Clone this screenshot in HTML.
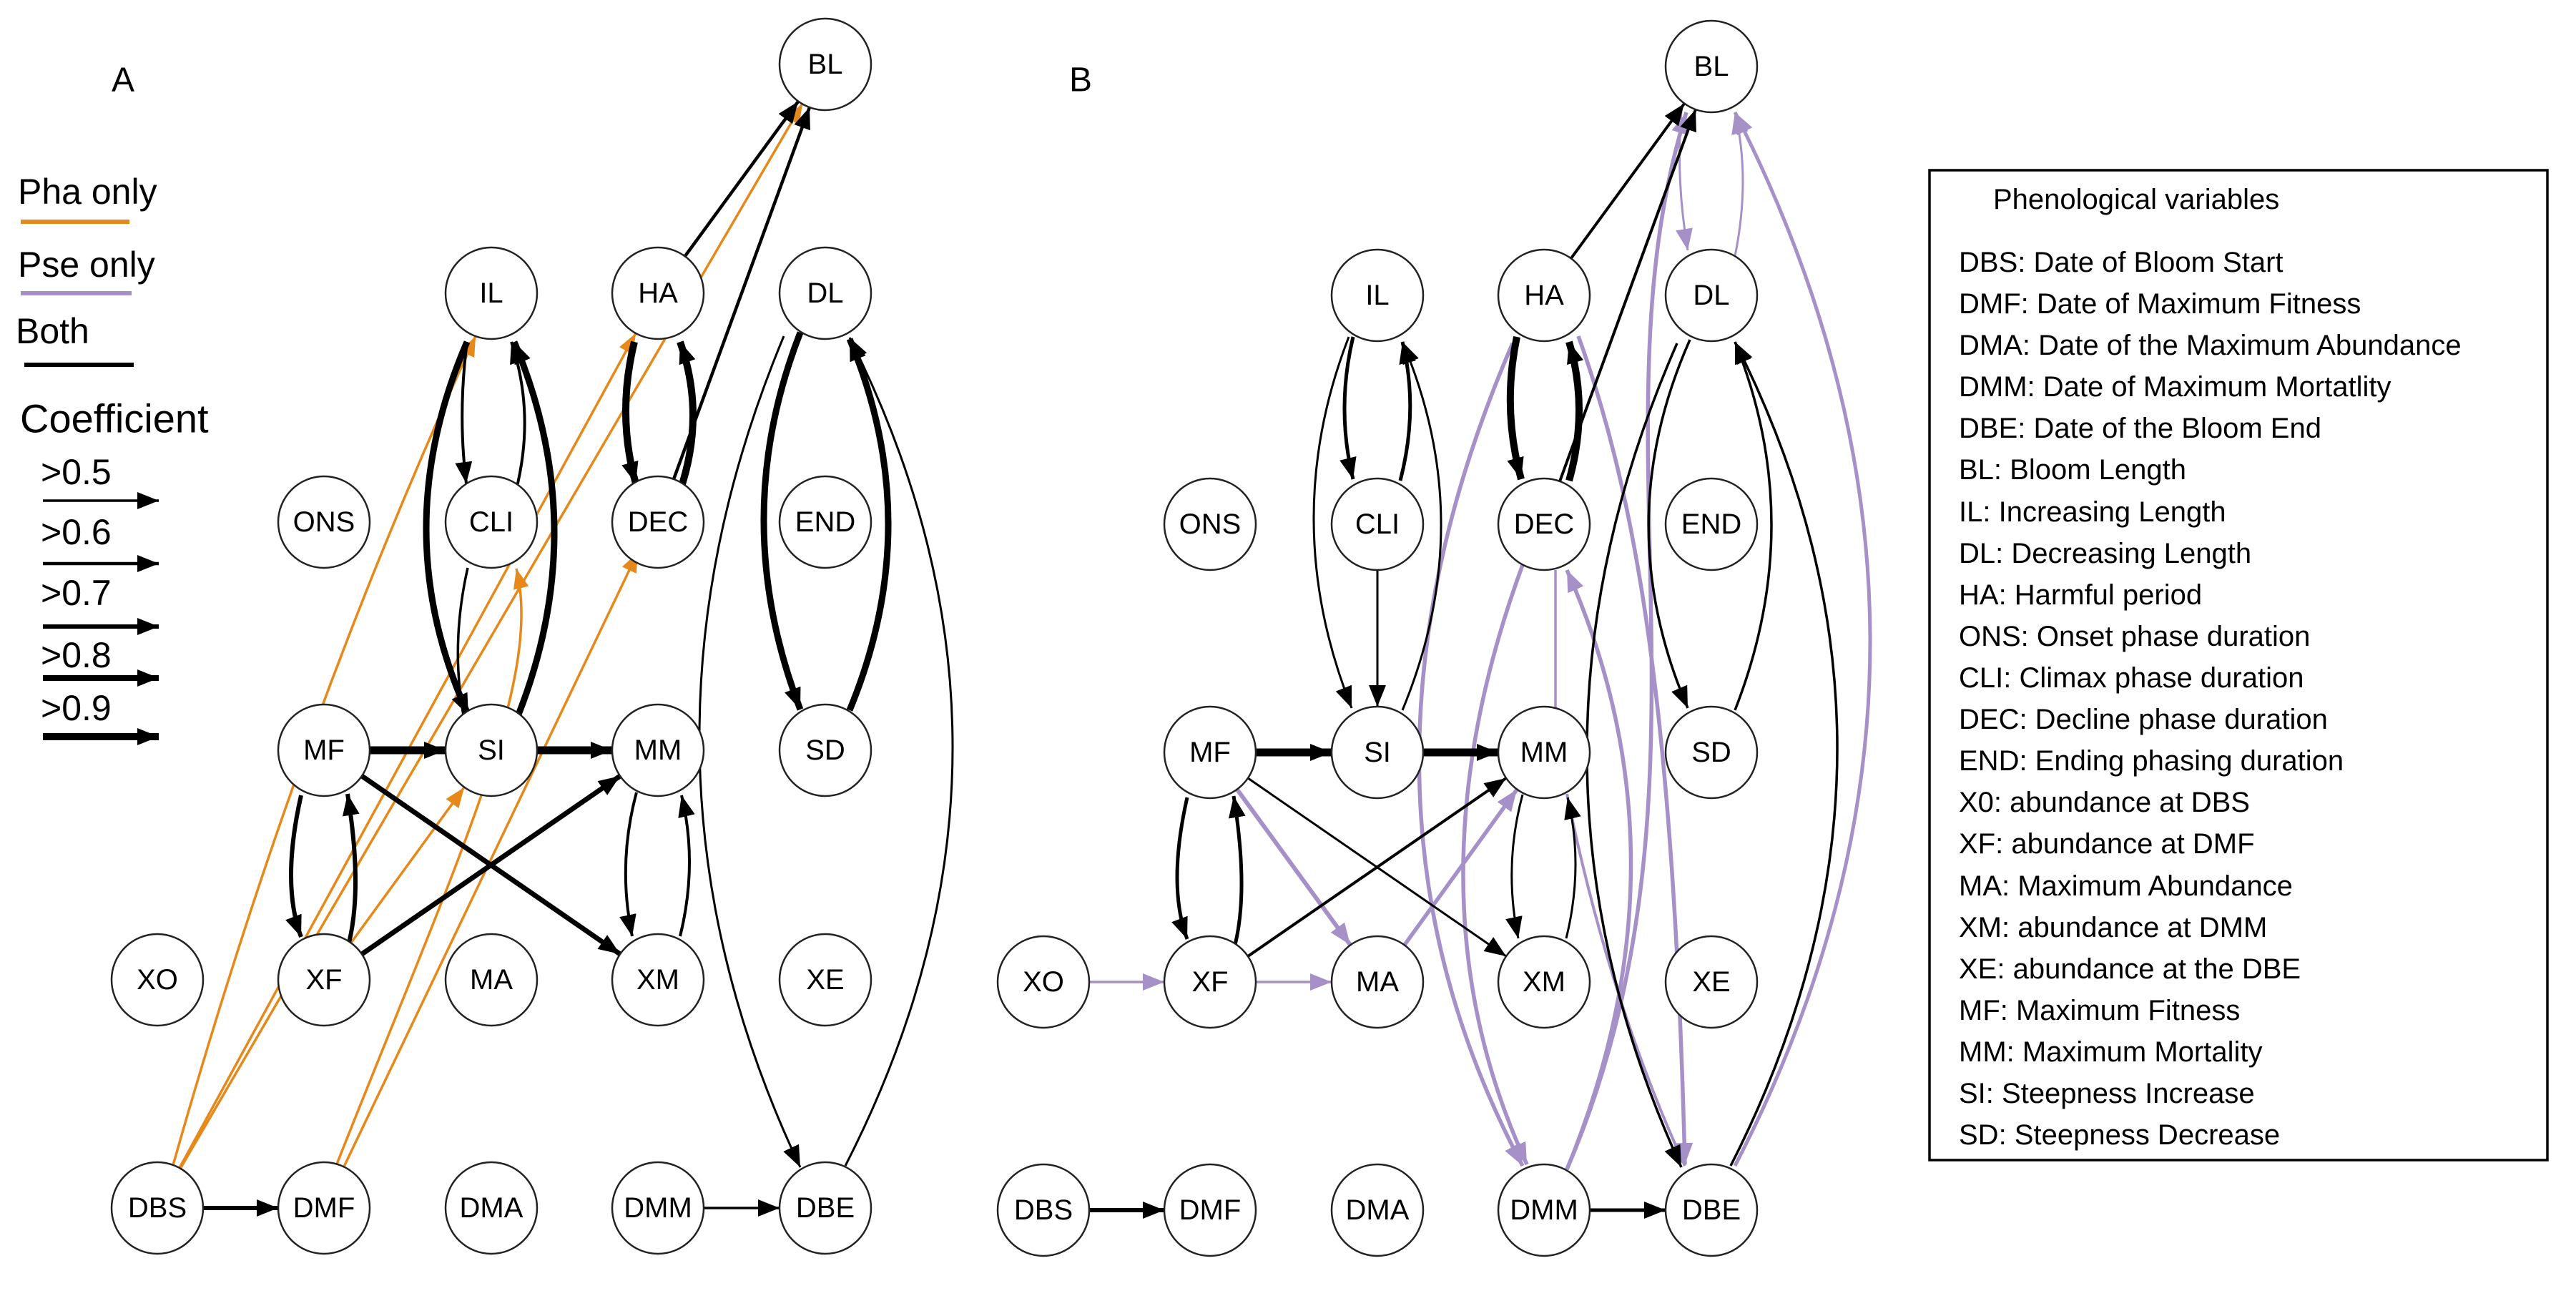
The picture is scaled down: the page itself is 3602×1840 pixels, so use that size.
<!DOCTYPE html>
<html><head><meta charset="utf-8"><style>html,body{margin:0;padding:0;background:#fff}svg{display:block}</style></head>
<body>
<svg width="3602" height="1840" viewBox="0 0 3602 1840" xmlns="http://www.w3.org/2000/svg" font-family="Liberation Sans, Arial, sans-serif">
<defs>
<marker id="k" markerUnits="userSpaceOnUse" markerWidth="30" markerHeight="24" refX="30" refY="12" orient="auto"><path d="M0,0 L30,12 L0,24 z" fill="#000"/></marker>
<marker id="o" markerUnits="userSpaceOnUse" markerWidth="28" markerHeight="22" refX="28" refY="11" orient="auto"><path d="M0,0 L28,11 L0,22 z" fill="#E6891A"/></marker>
<marker id="p" markerUnits="userSpaceOnUse" markerWidth="30" markerHeight="24" refX="30" refY="12" orient="auto"><path d="M0,0 L30,12 L0,24 z" fill="#A590C8"/></marker>
</defs>
<rect width="3602" height="1840" fill="#fff"/>

<g font-size="50" fill="#000">
<text x="172" y="112" font-size="48" text-anchor="middle" dominant-baseline="central">A</text>
<text x="1511" y="112" font-size="48" text-anchor="middle" dominant-baseline="central">B</text>
<text x="25" y="268" dominant-baseline="central">Pha only</text>
<text x="25" y="370" dominant-baseline="central">Pse only</text>
<text x="22" y="463" dominant-baseline="central">Both</text>
<text x="28" y="585" font-size="56" dominant-baseline="central">Coefficient</text>
<text x="57" y="660" dominant-baseline="central">&gt;0.5</text>
<text x="57" y="744" dominant-baseline="central">&gt;0.6</text>
<text x="57" y="829" dominant-baseline="central">&gt;0.7</text>
<text x="57" y="916" dominant-baseline="central">&gt;0.8</text>
<text x="57" y="990" dominant-baseline="central">&gt;0.9</text>
</g>
<g fill="none">
<path d="M29,310 L181,310" stroke="#E6891A" stroke-width="6"/>
<path d="M29,410 L184,410" stroke="#A590C8" stroke-width="6"/>
<path d="M34,510 L187,510" stroke="#000" stroke-width="6"/>
<g stroke="#000" marker-end="url(#k)">
<path d="M60,700 L222,700" stroke-width="3.5"/>
<path d="M60,788 L222,788" stroke-width="4.5"/>
<path d="M60,876 L222,876" stroke-width="6"/>
<path d="M60,948 L222,948" stroke-width="8"/>
<path d="M60,1030 L222,1030" stroke-width="10"/>
</g>
</g>

<g fill="none" stroke="#E6891A" stroke-width="3.5" marker-end="url(#o)">
<path d="M242,1629 Q420,1000 665,470"/>
<path d="M252,1634 L1122,145"/>
<path d="M251,1633 L889,466"/>
<path d="M491,1318 L649,1101"/>
<path d="M481,1631 L892,772"/>
<path d="M470,1630 C640,1200 760,950 722,795"/>
</g>
<g fill="none" stroke="#000" marker-end="url(#k)">
<path d="M958,358 L1116,142" stroke-width="4.5"/>
<path d="M942,670 L1132,150" stroke-width="4.5"/>
<path d="M653,478 Q640,580 652,676" stroke-width="4"/>
<path d="M721,688 Q749,580 715,478" stroke-width="4"/>
<path d="M653,478 Q538,744 655,1000" stroke-width="9"/>
<path d="M719,1014 Q831,744 719,478" stroke-width="9"/>
<path d="M654,794 Q630,900 648,1000" stroke-width="3.5" marker-end="none"/>
<path d="M887,478 Q862,580 889,676" stroke-width="10"/>
<path d="M951,686 Q987,580 951,478" stroke-width="10"/>
<path d="M1119,465 Q1017,726 1119,992" stroke-width="9"/>
<path d="M1188,993 Q1296,732 1188,474" stroke-width="9"/>
<path d="M1096,470 Q849,1062 1119,1632" stroke-width="3"/>
<path d="M1182,1630 Q1479,1050 1188,472" stroke-width="3"/>
<path d="M517,1049 L623,1049" stroke-width="11"/>
<path d="M751,1049 L856,1049" stroke-width="11"/>
<path d="M506,1085 L867,1334" stroke-width="7"/>
<path d="M506,1334 L867,1085" stroke-width="7"/>
<path d="M421,1112 Q393,1236 421,1310" stroke-width="6"/>
<path d="M488,1318 Q507,1240 486,1110" stroke-width="6"/>
<path d="M890,1108 Q863,1208 884,1309" stroke-width="4"/>
<path d="M951,1309 Q976,1208 953,1112" stroke-width="4"/>
<path d="M284,1689 L389,1689" stroke-width="6"/>
<path d="M984,1689 L1090,1689" stroke-width="3.5"/>
</g>

<g fill="none" stroke="#A590C8" marker-end="url(#p)">
<path d="M1523,1373 L1628,1373" stroke-width="3.5"/>
<path d="M1756,1373 L1862,1373" stroke-width="3.5"/>
<path d="M1730,1104 L1888,1321" stroke-width="6"/>
<path d="M1964,1321 L2121,1104" stroke-width="5.5"/>
<path d="M2351,155 Q2343,250 2360,350" stroke-width="3"/>
<path d="M2426,358 Q2448,250 2426,157" stroke-width="3"/>
<path d="M2426,1630 Q2804,900 2426,157" stroke-width="5"/>
<path d="M2115,480 Q1847,1100 2129,1630" stroke-width="5.5"/>
<path d="M2129,790 Q1960,1250 2135,1628" stroke-width="5.5"/>
<path d="M2191,1635 Q2370,1200 2191,797" stroke-width="5.5"/>
<path d="M2191,1635 C2420,1100 2220,600 2358,157" stroke-width="5.5"/>
<path d="M2207,470 C2290,700 2340,1000 2356,1628" stroke-width="5.5"/>
<path d="M2191,1110 Q2250,1400 2356,1630" stroke-width="4"/>
<path d="M2175,990 L2175,797" stroke-width="3.5" marker-end="none"/>
</g>
<g fill="none" stroke="#000" marker-end="url(#k)">
<path d="M2197,361 L2355,145" stroke-width="4"/>
<path d="M2181,673 L2371,153" stroke-width="4"/>
<path d="M1892,471 Q1868,572 1892,670" stroke-width="5"/>
<path d="M1958,672 Q1984,572 1961,478" stroke-width="5"/>
<path d="M1886,471 Q1786,729 1890,990" stroke-width="3"/>
<path d="M1961,993 Q2069,732 1961,478" stroke-width="3"/>
<path d="M1926,797 L1926,988" stroke-width="3"/>
<path d="M2121,471 Q2100,572 2127,670" stroke-width="10"/>
<path d="M2194,672 Q2222,572 2194,478" stroke-width="10"/>
<path d="M2363,475 Q2249,732 2360,990" stroke-width="3.5"/>
<path d="M2426,993 Q2528,732 2426,478" stroke-width="3.5"/>
<path d="M2345,480 Q2090,1062 2351,1632" stroke-width="3.5"/>
<path d="M2420,1630 Q2715,1050 2426,478" stroke-width="3.5"/>
<path d="M1756,1052 L1862,1052" stroke-width="11"/>
<path d="M1990,1052 L2095,1052" stroke-width="11"/>
<path d="M1745,1088 L2106,1337" stroke-width="3"/>
<path d="M1745,1337 L2106,1088" stroke-width="4"/>
<path d="M1660,1115 Q1632,1239 1660,1313" stroke-width="5"/>
<path d="M1727,1321 Q1746,1243 1725,1113" stroke-width="5"/>
<path d="M2129,1111 Q2102,1211 2123,1312" stroke-width="3"/>
<path d="M2190,1312 Q2215,1211 2192,1115" stroke-width="3"/>
<path d="M1523,1692 L1628,1692" stroke-width="6"/>
<path d="M2223,1692 L2329,1692" stroke-width="5"/>
</g>

<g font-size="40" text-anchor="middle" dominant-baseline="central">
<g stroke="#222" stroke-width="2.5" fill="#fff">
<circle cx="1154" cy="90" r="64"/>
<circle cx="687" cy="410" r="64"/><circle cx="920" cy="410" r="64"/><circle cx="1154" cy="410" r="64"/>
<circle cx="453" cy="730" r="64"/><circle cx="687" cy="730" r="64"/><circle cx="920" cy="730" r="64"/><circle cx="1154" cy="730" r="64"/>
<circle cx="453" cy="1049" r="64"/><circle cx="687" cy="1049" r="64"/><circle cx="920" cy="1049" r="64"/><circle cx="1154" cy="1049" r="64"/>
<circle cx="220" cy="1370" r="64"/><circle cx="453" cy="1370" r="64"/><circle cx="687" cy="1370" r="64"/><circle cx="920" cy="1370" r="64"/><circle cx="1154" cy="1370" r="64"/>
<circle cx="220" cy="1689" r="64"/><circle cx="453" cy="1689" r="64"/><circle cx="687" cy="1689" r="64"/><circle cx="920" cy="1689" r="64"/><circle cx="1154" cy="1689" r="64"/>
<circle cx="2393" cy="93" r="64"/>
<circle cx="1926" cy="413" r="64"/><circle cx="2159" cy="413" r="64"/><circle cx="2393" cy="413" r="64"/>
<circle cx="1692" cy="733" r="64"/><circle cx="1926" cy="733" r="64"/><circle cx="2159" cy="733" r="64"/><circle cx="2393" cy="733" r="64"/>
<circle cx="1692" cy="1052" r="64"/><circle cx="1926" cy="1052" r="64"/><circle cx="2159" cy="1052" r="64"/><circle cx="2393" cy="1052" r="64"/>
<circle cx="1459" cy="1373" r="64"/><circle cx="1692" cy="1373" r="64"/><circle cx="1926" cy="1373" r="64"/><circle cx="2159" cy="1373" r="64"/><circle cx="2393" cy="1373" r="64"/>
<circle cx="1459" cy="1692" r="64"/><circle cx="1692" cy="1692" r="64"/><circle cx="1926" cy="1692" r="64"/><circle cx="2159" cy="1692" r="64"/><circle cx="2393" cy="1692" r="64"/>
</g>
<g fill="#000">
<text x="1154" y="90">BL</text>
<text x="687" y="410">IL</text><text x="920" y="410">HA</text><text x="1154" y="410">DL</text>
<text x="453" y="730">ONS</text><text x="687" y="730">CLI</text><text x="920" y="730">DEC</text><text x="1154" y="730">END</text>
<text x="453" y="1049">MF</text><text x="687" y="1049">SI</text><text x="920" y="1049">MM</text><text x="1154" y="1049">SD</text>
<text x="220" y="1370">XO</text><text x="453" y="1370">XF</text><text x="687" y="1370">MA</text><text x="920" y="1370">XM</text><text x="1154" y="1370">XE</text>
<text x="220" y="1689">DBS</text><text x="453" y="1689">DMF</text><text x="687" y="1689">DMA</text><text x="920" y="1689">DMM</text><text x="1154" y="1689">DBE</text>
<text x="2393" y="93">BL</text>
<text x="1926" y="413">IL</text><text x="2159" y="413">HA</text><text x="2393" y="413">DL</text>
<text x="1692" y="733">ONS</text><text x="1926" y="733">CLI</text><text x="2159" y="733">DEC</text><text x="2393" y="733">END</text>
<text x="1692" y="1052">MF</text><text x="1926" y="1052">SI</text><text x="2159" y="1052">MM</text><text x="2393" y="1052">SD</text>
<text x="1459" y="1373">XO</text><text x="1692" y="1373">XF</text><text x="1926" y="1373">MA</text><text x="2159" y="1373">XM</text><text x="2393" y="1373">XE</text>
<text x="1459" y="1692">DBS</text><text x="1692" y="1692">DMF</text><text x="1926" y="1692">DMA</text><text x="2159" y="1692">DMM</text><text x="2393" y="1692">DBE</text>
</g>
</g>

<rect x="2698" y="238" width="864" height="1384" fill="none" stroke="#000" stroke-width="3.5"/>
<g font-size="40" fill="#000" dominant-baseline="central">
<text x="2787" y="279">Phenological variables</text>
<text x="2739" y="367">DBS: Date of Bloom Start</text>
<text x="2739" y="425">DMF: Date of Maximum Fitness</text>
<text x="2739" y="483">DMA: Date of the Maximum Abundance</text>
<text x="2739" y="541">DMM: Date of Maximum Mortatlity</text>
<text x="2739" y="599">DBE: Date of the Bloom End</text>
<text x="2739" y="657">BL: Bloom Length</text>
<text x="2739" y="716">IL: Increasing Length</text>
<text x="2739" y="774">DL: Decreasing Length</text>
<text x="2739" y="832">HA: Harmful period</text>
<text x="2739" y="890">ONS: Onset phase duration</text>
<text x="2739" y="948">CLI: Climax phase duration</text>
<text x="2739" y="1006">DEC: Decline phase duration</text>
<text x="2739" y="1064">END: Ending phasing duration</text>
<text x="2739" y="1122">X0: abundance at DBS</text>
<text x="2739" y="1180">XF: abundance at DMF</text>
<text x="2739" y="1239">MA: Maximum Abundance</text>
<text x="2739" y="1297">XM: abundance at DMM</text>
<text x="2739" y="1355">XE: abundance at the DBE</text>
<text x="2739" y="1413">MF: Maximum Fitness</text>
<text x="2739" y="1471">MM: Maximum Mortality</text>
<text x="2739" y="1529">SI: Steepness Increase</text>
<text x="2739" y="1587">SD: Steepness Decrease</text>
</g>
</svg>
</body></html>
